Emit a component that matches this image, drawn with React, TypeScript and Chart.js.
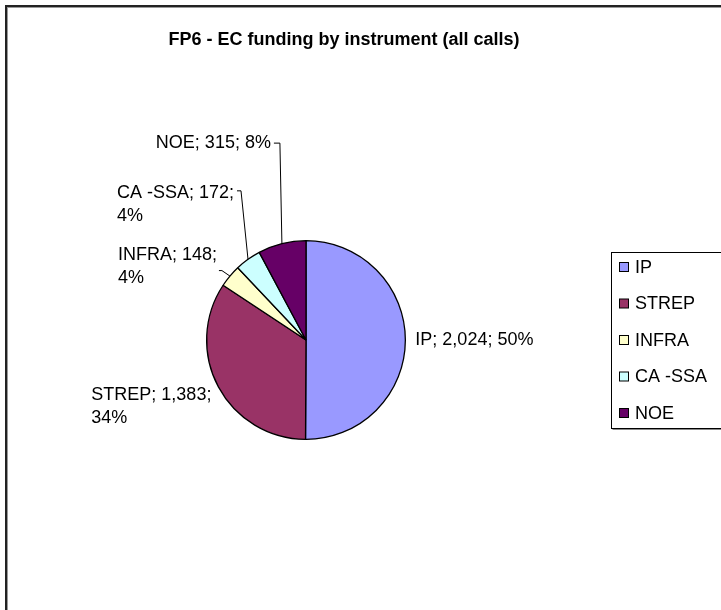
import { useEffect, useRef } from "react";
import { Chart, registerables } from "chart.js";

Chart.register(...registerables);

const chartTitle = "FP6 - EC funding by instrument (all calls)";
const categories = ["IP", "STREP", "INFRA", "CA -SSA", "NOE"];
const values = [2024, 1383, 148, 172, 315];
const colors = ["#9999FF", "#993366", "#FFFFCC", "#CCFFFF", "#660066"];

// label layout relative to the slice's outer mid point
const labelLayout = [
  { dx: 10, dy: 0, align: "left", wrap: false, leader: null },
  { dx: -7, dy: 8, align: "right", wrap: true, leader: null },
  { dx: -13, dy: -21, align: "right", wrap: true, leader: { sx: 2, sy: 15, tick: 3 } },
  { dx: -14, dy: -66, align: "right", wrap: true, leader: { sx: 3, sy: -3, tick: 4 } },
  { dx: -11, dy: -101, align: "right", wrap: false, leader: { sx: 3, sy: 0, tick: 6 } },
];

const FONT = "Liberation Sans, Arial, sans-serif";
const LABEL_SIZE = 18;
const LINE_H = 23;

const fmt = (v: number) => v.toLocaleString("en-US");

const overlay = {
  id: "overlay",
  beforeDraw(chart: any) {
    const ctx = chart.ctx;
    ctx.save();
    ctx.fillStyle = "#fff";
    ctx.fillRect(0, 0, chart.width, chart.height);
    ctx.fillStyle = "#222";
    ctx.fillRect(5, 5, 2, chart.height - 5);
    ctx.fillRect(5, 5, chart.width - 5, 2);
    ctx.fillStyle = "#999";
    ctx.fillRect(7, 7, 1, chart.height - 7);
    ctx.fillRect(7, 7, chart.width - 7, 1);
    ctx.restore();
  },
  afterDraw(chart: any) {
    const ctx = chart.ctx;
    const meta = chart.getDatasetMeta(0);
    const total = values.reduce((a, b) => a + b, 0);
    ctx.save();
    // title
    ctx.fillStyle = "#000";
    ctx.font = `bold 18px ${FONT}`;
    ctx.textAlign = "center";
    ctx.textBaseline = "middle";
    ctx.fillText(chartTitle, 344, 40);

    // data labels
    ctx.font = `${LABEL_SIZE}px ${FONT}`;
    meta.data.forEach((arc: any, i: number) => {
      const mid = (arc.startAngle + arc.endAngle) / 2;
      const px = arc.x + Math.cos(mid) * arc.outerRadius;
      const py = arc.y + Math.sin(mid) * arc.outerRadius;
      const lay = labelLayout[i];
      const pct = Math.round((values[i] / total) * 100) + "%";
      const first = `${categories[i]}; ${fmt(values[i])};`;
      const lines = lay.wrap ? [first, pct] : [`${first} ${pct}`];
      const ax = px + lay.dx;
      const ay = py + lay.dy;
      const w0 = ctx.measureText(lines[0]).width;
      const left = lay.align === "left" ? ax : ax - w0;
      ctx.fillStyle = "#000";
      ctx.textAlign = "left";
      ctx.textBaseline = "middle";
      lines.forEach((ln, k) => ctx.fillText(ln, left, ay + k * LINE_H));
      if (lay.leader) {
        const sx = left + w0 + lay.leader.sx;
        const sy = ay + lay.leader.sy;
        ctx.strokeStyle = "#000";
        ctx.lineWidth = 1;
        ctx.beginPath();
        ctx.moveTo(sx, sy + 0.5);
        ctx.lineTo(sx + lay.leader.tick, sy + 0.5);
        ctx.lineTo(px, py);
        ctx.stroke();
      }
    });

    // legend
    const bx = 611.5, by = 252.5, bb = 428.5;
    ctx.fillStyle = "#fff";
    ctx.strokeStyle = "#000";
    ctx.lineWidth = 1;
    ctx.fillRect(bx, by, chart.width - bx + 10, bb - by);
    ctx.strokeRect(bx, by, chart.width - bx + 10, bb - by);
    ctx.fillStyle = "#888";
    ctx.fillRect(bx + 1, bb + 0.5, chart.width - bx, 1);
    ctx.font = `${LABEL_SIZE}px ${FONT}`;
    categories.forEach((c, i) => {
      const cy = 267 + i * 36.5;
      ctx.fillStyle = colors[i];
      ctx.fillRect(619.5, cy - 4.5, 9, 9);
      ctx.strokeStyle = "#000";
      ctx.strokeRect(619.5, cy - 4.5, 9, 9);
      ctx.fillStyle = "#000";
      ctx.textAlign = "left";
      ctx.textBaseline = "middle";
      ctx.fillText(c, 635, cy + 1);
    });
    ctx.restore();
  },
};

export default function App() {
  const ref = useRef<HTMLCanvasElement | null>(null);
  useEffect(() => {
    if (!ref.current) return;
    const chart = new Chart(ref.current, {
      type: "pie",
      data: {
        labels: categories,
        datasets: [
          {
            data: values,
            backgroundColor: colors,
            borderColor: "#000",
            borderWidth: 1.3,
          },
        ],
      },
      options: {
        responsive: false,
        animation: false,
        layout: { padding: { left: 206, right: 315, top: 240, bottom: 170 } },
        plugins: {
          legend: { display: false },
          title: { display: false },
          tooltip: { enabled: false },
        },
      },
      plugins: [overlay],
    });
    return () => chart.destroy();
  }, []);
  return (
    <div style={{ position: "absolute", left: 0, top: 0, width: 721, height: 610 }}>
      <canvas ref={ref} width={721} height={610} />
    </div>
  );
}
